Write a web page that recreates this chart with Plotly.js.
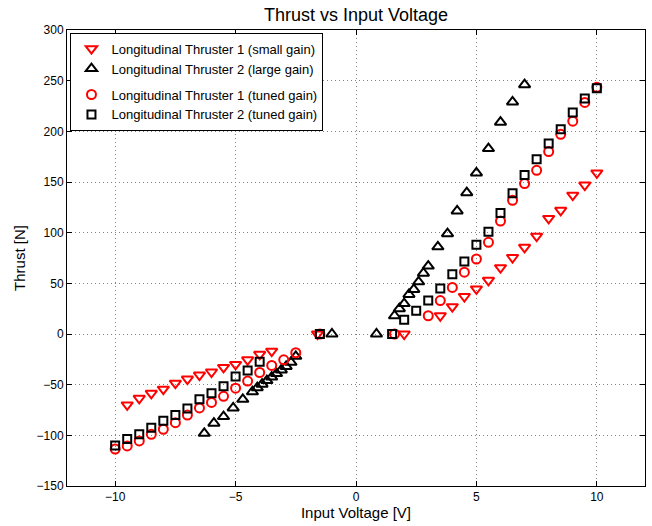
<!DOCTYPE html>
<html>
<head>
<meta charset="utf-8">
<script src="https://cdn.plot.ly/plotly-3.0.1.min.js"></script>
<style>html,body{margin:0;padding:0;background:#fff;}#chart{width:652px;height:526px;}</style>
</head>
<body>
<div id="chart"></div>
<script>
// Longitudinal Thruster 1 (small gain)
const t1SmallV = [-9.5,-9,-8.5,-8,-7.5,-7,-6.5,-6,-5.5,-5,-4.5,-4,-3.5,-1.6,
                  2,3.5,4,4.5,5,5.5,6,6.5,7,7.5,8,8.5,9,9.5,10];
const t1SmallF = [-70,-63.5,-58.5,-54.5,-48.5,-44.5,-40.5,-37.5,-33,-30,-25.5,-20,-17,0,
                  0,18,27,37,44.5,53,65.5,75.5,85.5,96.5,114,122,137,147,159];
// Longitudinal Thruster 2 (large gain)
const t2LargeV = [-6.3,-5.9,-5.5,-5.1,-4.7,-4.3,-4.1,-3.9,-3.7,-3.5,-3.3,-3.1,-2.9,-2.7,-2.5,-1.0,
                  0.85,1.6,1.8,2.0,2.2,2.4,2.6,2.8,3.0,3.4,3.8,4.2,4.6,5.0,5.5,6.0,6.5,7.0];
const t2LargeF = [-98,-88,-81.5,-73,-64.5,-57,-53,-49.5,-46,-42.5,-39,-35.5,-32,-28,-22,0,
                  0,18,25,30,39,44,51.5,60,67,86,99,121.5,139.5,159,183,209,229,246];
// Longitudinal Thruster 1 (tuned gain)
const t1TunedV = [-10,-9.5,-9,-8.5,-8,-7.5,-7,-6.5,-6,-5.5,-5,-4.5,-4,-3.5,-3,-2.5,-1.5,
                  1.6,3,3.5,4,4.5,5,5.5,6,6.5,7,7.5,8,8.5,9,9.5,10];
const t1TunedF = [-113.5,-110.5,-105.5,-99,-94,-87.5,-80,-73,-67.5,-61.5,-53.5,-46.5,-38,-31,-25.5,-18.5,0,
                  0,18,33,46,61,74,90.5,111.5,132,148.5,161.5,180,197,210,228.5,243.5];
// Longitudinal Thruster 2 (tuned gain)
const t2TunedV = [-10,-9.5,-9,-8.5,-8,-7.5,-7,-6.5,-6,-5.5,-5,-4.5,-4,-1.5,
                  1.5,2,2.5,3,3.5,4,4.5,5,5.5,6,6.5,7,7.5,8,8.5,9,9.5,10];
const t2TunedF = [-110,-103.5,-99,-92.5,-85.5,-80,-73.5,-64.5,-58.5,-51.5,-42,-36,-27.5,0,
                  0,14,23,33,45,59,71.5,88,101,119.5,139,157,172.5,188,202,218.5,232.5,242.5];

const xTicks = [-10,-5,0,5,10];
const yTicks = [-150,-100,-50,0,50,100,150,200,250,300];

const FONT = 'Liberation Sans, Arial, Helvetica, sans-serif';

const traces = [
  {x:t1SmallV, y:t1SmallF, type:'scatter', mode:'markers', name:'Longitudinal Thruster 1 (small gain)',
   legendgroup:'a', marker:{symbol:'triangle-down-open', size:10, color:'#ff0000', line:{width:2, color:'#ff0000'}}},
  {x:t2LargeV, y:t2LargeF, type:'scatter', mode:'markers', name:'Longitudinal Thruster 2 (large gain)',
   legendgroup:'a', marker:{symbol:'triangle-up-open', size:10, color:'#000000', line:{width:2, color:'#000000'}}},
  {x:t1TunedV, y:t1TunedF, type:'scatter', mode:'markers', name:'Longitudinal Thruster 1 (tuned gain)',
   legendgroup:'b', marker:{symbol:'circle-open', size:9, color:'#ff0000', line:{width:2, color:'#ff0000'}}},
  {x:t2TunedV, y:t2TunedF, type:'scatter', mode:'markers', name:'Longitudinal Thruster 2 (tuned gain)',
   legendgroup:'b', marker:{symbol:'square-open', size:8, color:'#000000', line:{width:2, color:'#000000'}}}
];

const axisCommon = {
  showline:true, linecolor:'#000', linewidth:1, mirror:'ticks',
  ticks:'inside', ticklen:5, tickcolor:'#000', tickwidth:1,
  showgrid:true, gridcolor:'#808080', griddash:'1px,3px', gridwidth:1,
  zeroline:false, tickfont:{family:FONT, size:12, color:'#000'}
};

const layout = {
  width:652, height:526,
  paper_bgcolor:'#fff', plot_bgcolor:'#fff',
  margin:{l:67, r:7, t:30, b:40},
  font:{family:FONT, color:'#000'},
  title:{text:'Thrust vs Input Voltage', x:0.546, xanchor:'center', y:0.972, yanchor:'middle',
         font:{size:18, color:'#000', family:FONT}},
  xaxis:Object.assign({}, axisCommon, {range:[-12,12], tickvals:xTicks, ticktext:xTicks.map(v=>v<0?'\u2212'+(-v):String(v)),
         title:{text:'Input Voltage [V]', standoff:3, font:{size:15, color:'#000', family:FONT}}}),
  yaxis:Object.assign({}, axisCommon, {range:[-150,300], tickvals:yTicks, ticktext:yTicks.map(v=>v<0?'\u2212'+(-v):String(v)),
         title:{text:'Thrust [N]', standoff:7, font:{size:15, color:'#000', family:FONT}}}),
  showlegend:true,
  legend:{x:0.006, y:0.994, xanchor:'left', yanchor:'top', bgcolor:'#fff', bordercolor:'#000', borderwidth:1,
          traceorder:'grouped', tracegroupgap:6, itemwidth:30,
          font:{size:13, color:'#000', family:FONT}}
};

Plotly.newPlot('chart', traces, layout, {displayModeBar:false, staticPlot:true});
</script>
</body>
</html>
